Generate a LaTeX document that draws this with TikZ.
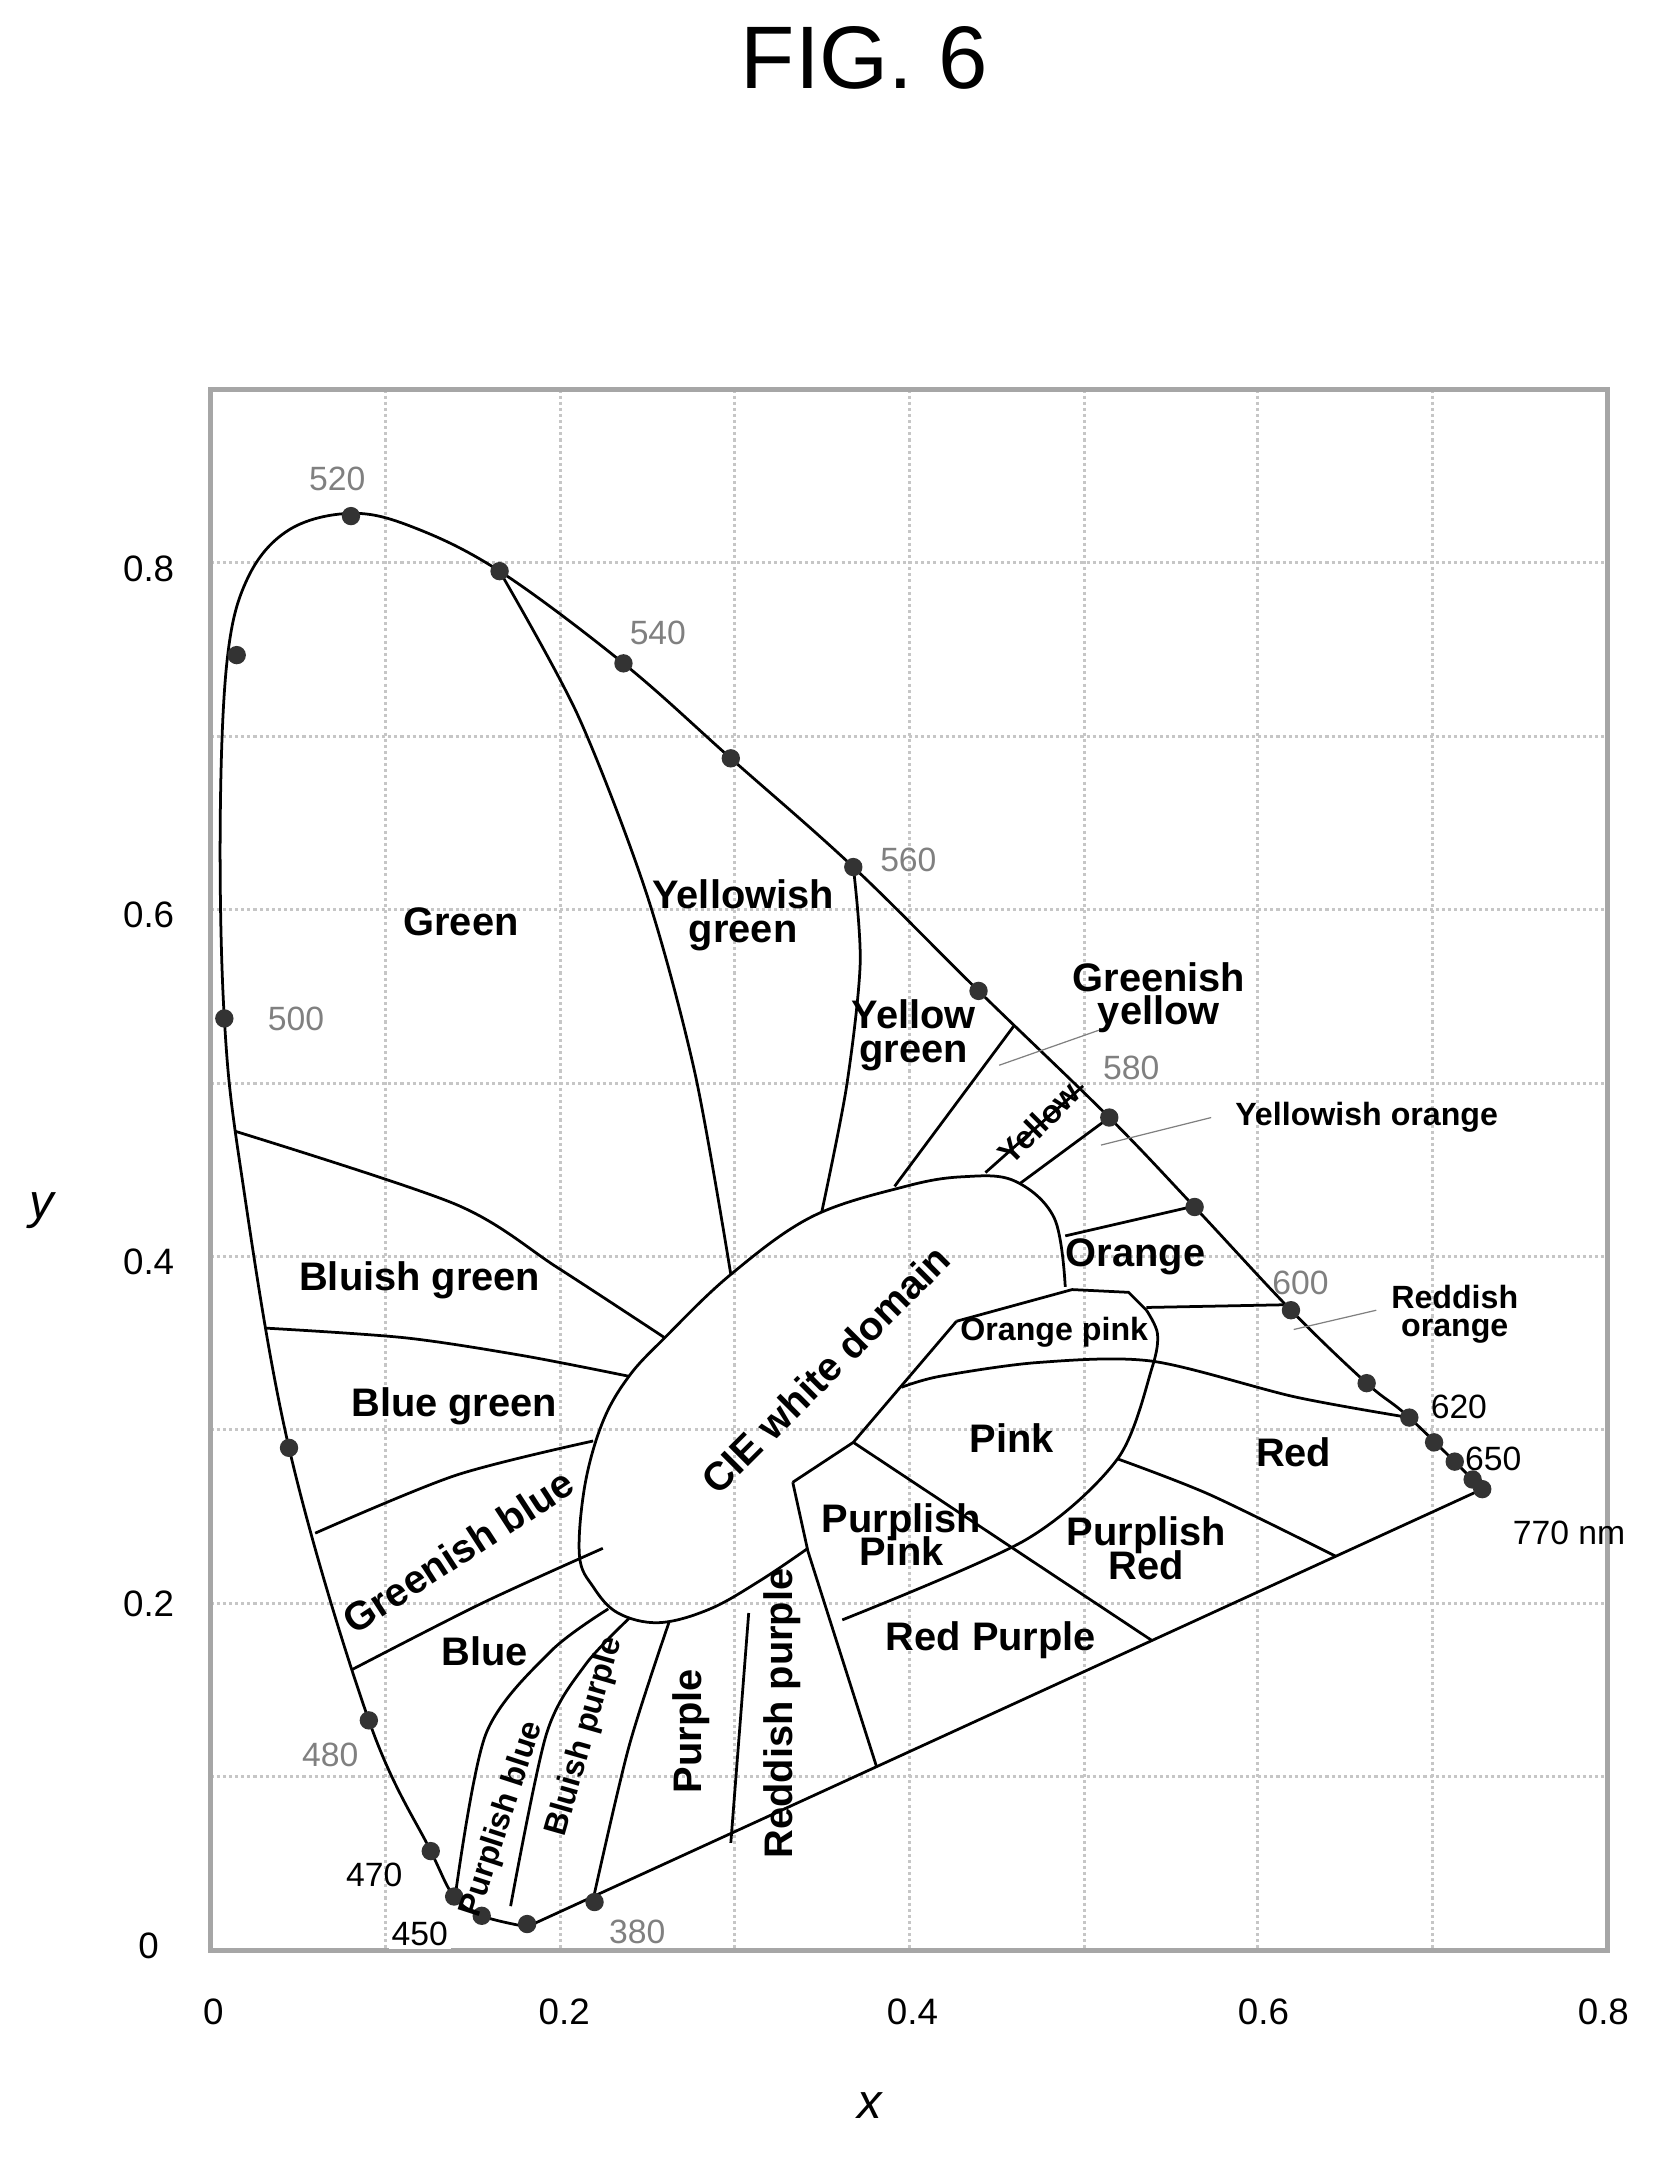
\documentclass[tikz,border=0pt]{standalone}
\usepackage{fontspec}
\setmainfont{Liberation Sans}
\usepackage{tikz}
\usetikzlibrary{positioning}

\begin{document}
\begin{tikzpicture}[x=0.0158cm, y=-0.0158cm, thick]
\tikzstyle{region} = [font=\fontsize{13}{14}\selectfont\bfseries, align=center, inner sep=1pt]
\tikzstyle{small} = [font=\fontsize{10.5}{11}\selectfont\bfseries, align=center, inner sep=0.5pt]
\tikzstyle{nm} = [font=\fontsize{11}{12}\selectfont, inner sep=1pt]
\tikzstyle{tick} = [font=\fontsize{12}{13}\selectfont, inner sep=1pt]
\tikzstyle{border} = [line width=0.9pt]
\tikzstyle{dot} = [circle, fill=black!80, inner sep=0pt, minimum size=6pt]

\useasboundingbox (0,0) rectangle (1215,1568);
\node (title) at (628,42) {\fontsize{29}{34}\selectfont FIG. 6};

% grid and frame
\foreach \gx in {280,407,534,661,788,914,1041}
  \draw[gray!45, densely dotted, line width=1pt] (\gx,283) -- (\gx,1417);
\foreach \gy in {409,535,661,787,913,1039,1165,1291}
  \draw[gray!45, densely dotted, line width=1pt] (153,\gy) -- (1168,\gy);
\draw[gray!70, line width=1.6pt] (153,283) rectangle (1168,1417);

% spectral locus
\draw[border] plot[smooth, tension=0.6] coordinates {(383,1400) (350,1392) (330,1378) (313,1345) (268,1250) (210,1052) (175,850) (163,740) (160,600) (165,480) (180,420) (210,385) (255,373) (300,383) (363,415) (453,482) (531,551) (620,630) (711,720) (806,812) (868,877) (938,952) (993,1005) (1024,1030) (1077,1082)}
  -- (383,1400);

% region borders
\draw[border] plot[smooth] coordinates {(363,415) (420,520) (470,650) (505,780) (531,926)};
\draw[border] plot[smooth] coordinates {(620,630) (625,700) (615,790) (597,881)};
\draw[border] (737,745) -- (650,862);
\draw[border] (787,789) -- (716,852);
\draw[border] (806,812) -- (741,860);
\draw[border] (865,877) -- (774,898);
\draw[border] (935,948) -- (833,950);
\draw[border] plot[smooth] coordinates {(171,822) (331,875) (405,921) (483,972)};
\draw[border] plot[smooth] coordinates {(193,965) (294,972) (380,985) (457,1000)};
\draw[border] plot[smooth] coordinates {(229,1114) (331,1072) (431,1047)};
\draw[border] plot[smooth] coordinates {(256,1213) (350,1165) (438,1125)};
\draw[border] plot[smooth] coordinates {(331,1376) (353,1260) (400,1200) (442,1169)};
\draw[border] plot[smooth] coordinates {(371,1385) (397,1260) (425,1210) (457,1176)};
\draw[border] plot[smooth] coordinates {(431,1380) (457,1269) (486,1179)};
\draw[border] (531,1339) -- (544,1172);

% white domain
\draw[border] plot[smooth, tension=0.6] coordinates {(587,1125) (553,1148) (516,1169) (479,1179) (449,1172) (431,1153) (421,1130) (425,1079) (438,1033) (457,1000) (483,972) (531,926) (590,884) (658,862) (700,855) (737,858) (766,885) (774,935)};
\draw[border] (695,960) -- (620,1048) -- (576,1077);

% pink and red groups
\draw[border] (695,960) -- (779,937) -- (820,939) -- (833,952);
\draw[border] (576,1077) -- (587,1127) -- (637,1284);
\draw[border] plot[smooth] coordinates {(833,952) (841,969) (837,994) (812,1060) (745,1119) (612,1177)};
\draw[border] (620,1048) -- (837,1192);
\draw[border] plot[smooth] coordinates {(812,1060) (879,1086) (971,1131)};
\draw[border] plot[smooth] coordinates {(655,1008) (683,1000) (754,990) (837,989) (941,1015) (1024,1030)};

% leader lines
\draw[gray, thin] (800,748) -- (726,774);
\draw[gray, thin] (880,812) -- (800,832);
\draw[gray, thin] (1000,952) -- (940,966);

% dots on the locus
\foreach \px/\py in {432/1382, 383/1398, 350/1392, 330/1378, 313/1345, 268/1250, 210/1052, 163/740, 172/476, 255/375, 363/415, 453/482, 531/551, 620/630, 711/720, 806/812, 868/877, 938/952, 993/1005, 1024/1030, 1042/1048, 1057/1062, 1070/1075, 1077/1082}
  \node[dot] at (\px,\py) {};

% region names
\node[region] (green) at (335,670) {Green};
\node[region] (ygreen) at (540,665) {Yellowish\\[-3pt]green};
\node[region] (yg) at (664,752) {Yellow\\[-3pt]green};
\node[region] (gy) at (842,725) {Greenish\\[-3pt]yellow};
\node[small, rotate=45] (yel) at (755,816) {Yellow};
\node[small] (yo) at (993,812) {Yellowish orange};
\node[region] (orange) at (825,913) {Orange};
\node[small] (ro) at (1057,955) {Reddish\\[-2pt]orange};
\node[small] (opink) at (766,968) {Orange pink};
\node[region] (pink) at (735,1045) {Pink};
\node[region] (red) at (940,1055) {Red};
\node[region] (ppink) at (655,1115) {Purplish\\[-3pt]Pink};
\node[region] (pred) at (833,1125) {Purplish\\[-3pt]Red};
\node[region] (rpurple) at (720,1192) {Red Purple};
\node[region, rotate=45] (white) at (600,995) {CIE white domain};
\node[region] (bgreen) at (305,930) {Bluish green};
\node[region] (blgreen) at (330,1022) {Blue green};
\node[region, rotate=33] (gblue) at (333,1127) {Greenish blue};
\node[region] (blue) at (352,1200) {Blue};
\node[small, rotate=72] (pblue) at (365,1322) {Purplish blue};
\node[small, rotate=74] (bpurple) at (425,1262) {Bluish purple};
\node[region, rotate=90] (purple) at (502,1258) {Purple};
\node[region, rotate=90] (rpurp) at (568,1245) {Reddish purple};

% wavelengths
\node[nm, gray] (n520) at (245,348) {520};
\node[nm, gray] (n540) at (478,460) {540};
\node[nm, gray] (n560) at (660,625) {560};
\node[nm, gray] (n500) at (215,740) {500};
\node[nm, gray] (n580) at (822,776) {580};
\node[nm, gray] (n600) at (945,932) {600};
\node[nm] (n620) at (1060,1022) {620};
\node[nm] (n650) at (1085,1060) {650};
\node[nm] (n770) at (1140,1114) {770 nm};
\node[nm, gray] (n480) at (240,1275) {480};
\node[nm] (n470) at (272,1362) {470};
\node[nm, fill=white] (n450) at (305,1405) {450};
\node[nm, gray, fill=white] (n380) at (463,1404) {380};

% axes
\foreach \tl/\ty in {0/1414, 0.2/1165, 0.4/917, 0.6/665, 0.8/413}
  \node[tick] at (108,\ty) {\tl};
\foreach \tl/\tx in {0/155, 0.2/410, 0.4/663, 0.6/918, 0.8/1165}
  \node[tick] at (\tx,1462) {\tl};
\node[font=\fontsize{16}{18}\selectfont\itshape] (ylab) at (30,880) {y};
\node[font=\fontsize{16}{18}\selectfont\itshape] (xlab) at (632,1530) {x};
\end{tikzpicture}
\end{document}
